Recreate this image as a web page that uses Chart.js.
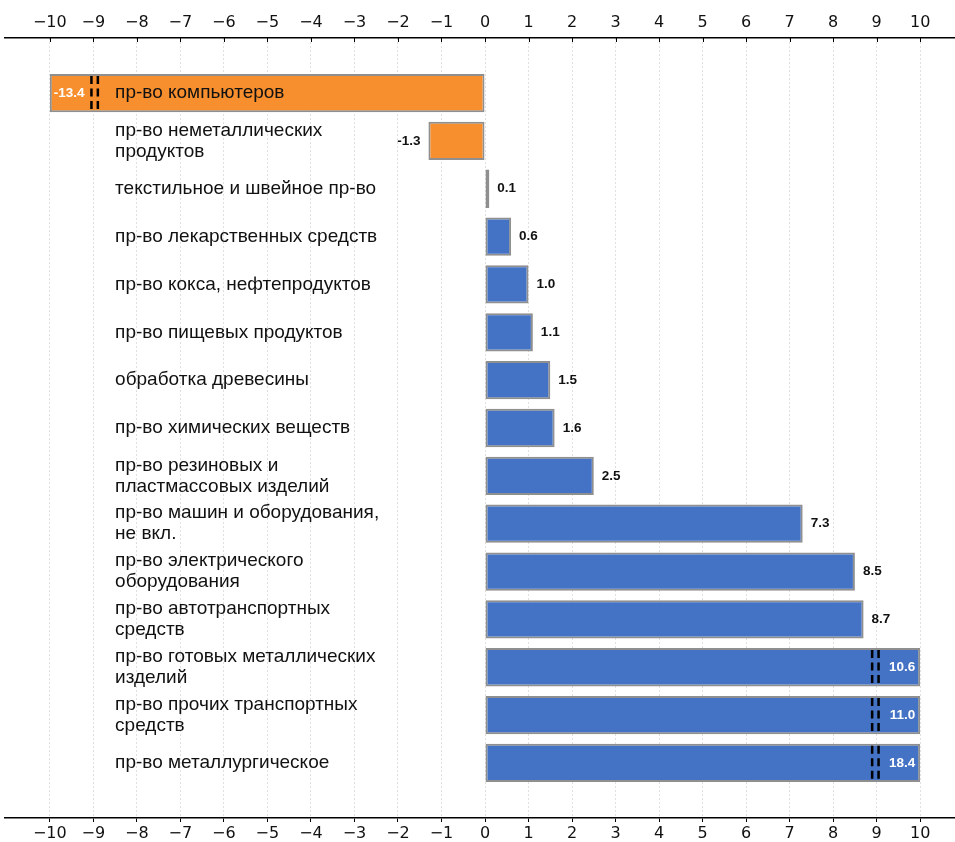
<!DOCTYPE html>
<html>
<head>
<meta charset="utf-8">
<script src="https://cdn.jsdelivr.net/npm/chart.js@4"></script>
<style>
  html, body { margin: 0; padding: 0; background: #fff; }
  #wrap { width: 955px; height: 842px; position: relative; }
</style>
</head>
<body>
<div id="wrap"><canvas id="c"></canvas></div>
<script>
const categories = [
  ["пр-во компьютеров"],
  ["пр-во неметаллических", "продуктов"],
  ["текстильное и швейное пр-во"],
  ["пр-во лекарственных средств"],
  ["пр-во кокса, нефтепродуктов"],
  ["пр-во пищевых продуктов"],
  ["обработка древесины"],
  ["пр-во химических веществ"],
  ["пр-во резиновых и", "пластмассовых изделий"],
  ["пр-во машин и оборудования,", "не вкл."],
  ["пр-во электрического", "оборудования"],
  ["пр-во автотранспортных", "средств"],
  ["пр-во готовых металлических", "изделий"],
  ["пр-во прочих транспортных", "средств"],
  ["пр-во металлургическое"]
];
const values = [-13.4, -1.3, 0.1, 0.6, 1.0, 1.1, 1.5, 1.6, 2.5, 7.3, 8.5, 8.7, 10.6, 11.0, 18.4];
const tickValues = [-10, -9, -8, -7, -6, -5, -4, -3, -2, -1, 0, 1, 2, 3, 4, 5, 6, 7, 8, 9, 10];
const clipLimit = 10;
const breakAt = 9;
const axisMin = -11.03;
const axisMax = 10.80;
const labelAnchor = -8.5;

const clamp = v => Math.max(-clipLimit, Math.min(clipLimit, v));
const barData = values.map((v, i) => ({ x: clamp(v), y: i }));
const barColors = values.map(v => v < 0 ? '#F78F2E' : '#4472C4');
const fmtTick = v => v < 0 ? '\u2212' + Math.abs(v) : String(v);

const overlay = {
  id: 'overlay',
  afterDraw(chart) {
    const ctx = chart.ctx;
    const xs = chart.scales.x;
    const xt = chart.scales.xTop;
    const meta = chart.getDatasetMeta(0);
    ctx.save();
    ctx.strokeStyle = '#000';
    ctx.lineWidth = 1;
    tickValues.forEach(t => {
      const px = Math.round(xt.getPixelForValue(t)) + 0.5;
      ctx.beginPath();
      ctx.moveTo(px, chart.chartArea.top);
      ctx.lineTo(px, chart.chartArea.top + 4);
      ctx.stroke();
    });
    meta.data.forEach((bar, i) => {
      const v = values[i];
      const yc = bar.y;
      const h = bar.height;
      ctx.fillStyle = '#111';
      ctx.font = '19px "Liberation Sans", Arial, sans-serif';
      ctx.textAlign = 'left';
      ctx.textBaseline = 'middle';
      const lines = categories[i];
      const lh = 21;
      const lx = xs.getPixelForValue(labelAnchor);
      lines.forEach((ln, k) => {
        ctx.fillText(ln, lx, yc + (k - (lines.length - 1) / 2) * lh);
      });
      ctx.font = 'bold 13.5px "Liberation Sans", Arial, sans-serif';
      const txt = v.toFixed(1);
      const clipped = Math.abs(v) > clipLimit;
      if (clipped) {
        ctx.fillStyle = '#fff';
        if (v > 0) { ctx.textAlign = 'right'; ctx.fillText(txt, bar.x - 5, yc); }
        else { ctx.textAlign = 'left'; ctx.fillText(txt, bar.x + 4, yc); }
        const sign = v > 0 ? 1 : -1;
        const pc = xs.getPixelForValue(sign * (breakAt - 0.03));
        ctx.strokeStyle = '#000';
        ctx.lineWidth = 2.5;
        ctx.setLineDash([8, 4.5]);
        [-3.2, 3.2].forEach(off => {
          ctx.beginPath();
          ctx.moveTo(pc + off, yc - h / 2 + 2);
          ctx.lineTo(pc + off, yc + h / 2);
          ctx.stroke();
        });
        ctx.setLineDash([]);
      } else {
        ctx.fillStyle = '#111';
        if (v >= 0) { ctx.textAlign = 'left'; ctx.fillText(txt, bar.x + 8, yc); }
        else { ctx.textAlign = 'right'; ctx.fillText(txt, bar.x - 8, yc); }
      }
    });
    ctx.restore();
  }
};

new Chart(document.getElementById('c'), {
  type: 'bar',
  data: {
    datasets: [{
      data: barData,
      backgroundColor: barColors,
      borderColor: '#8f8f8f',
      borderWidth: 2,
      borderSkipped: false,
      barPercentage: 0.8,
      categoryPercentage: 1.0,
      xAxisID: 'x',
      yAxisID: 'y'
    }]
  },
  options: {
    indexAxis: 'y',
    responsive: true,
    maintainAspectRatio: false,
    animation: false,
    layout: { padding: { left: 5, right: 0, top: 0, bottom: 0 } },
    plugins: { legend: { display: false }, tooltip: { enabled: false } },
    scales: {
      y: {
        type: 'linear',
        reverse: true,
        offset: false,
        min: -1.15,
        max: 15.15,
        display: false
      },
      x: {
        type: 'linear',
        position: 'bottom',
        min: axisMin,
        max: axisMax,
        z: 1,
        afterBuildTicks(scale) { scale.ticks = tickValues.map(v => ({ value: v })); },
        afterFit(scale) { scale.height = 24; },
        ticks: {
          callback: v => fmtTick(v),
          font: { family: '"DejaVu Sans"', size: 16 },
          color: '#111',
          padding: 2,
          maxRotation: 0,
          autoSkip: false
        },
        grid: {
          color: 'rgba(185,185,185,0.45)',
          tickColor: '#000',
          tickLength: 4,
          lineWidth: 1
        },
        border: { display: true, color: '#000', width: 1.5, dash: [2, 2] }
      },
      xTop: {
        type: 'linear',
        position: 'top',
        min: axisMin,
        max: axisMax,
        afterBuildTicks(scale) { scale.ticks = tickValues.map(v => ({ value: v })); },
        afterFit(scale) { scale.height = 38; },
        ticks: {
          callback: v => fmtTick(v),
          font: { family: '"DejaVu Sans"', size: 16 },
          color: '#111',
          padding: 6,
          maxRotation: 0,
          autoSkip: false
        },
        grid: { drawOnChartArea: false, drawTicks: false },
        border: { display: true, color: '#000', width: 1.5 }
      }
    }
  },
  plugins: [overlay]
});
</script>
</body>
</html>
